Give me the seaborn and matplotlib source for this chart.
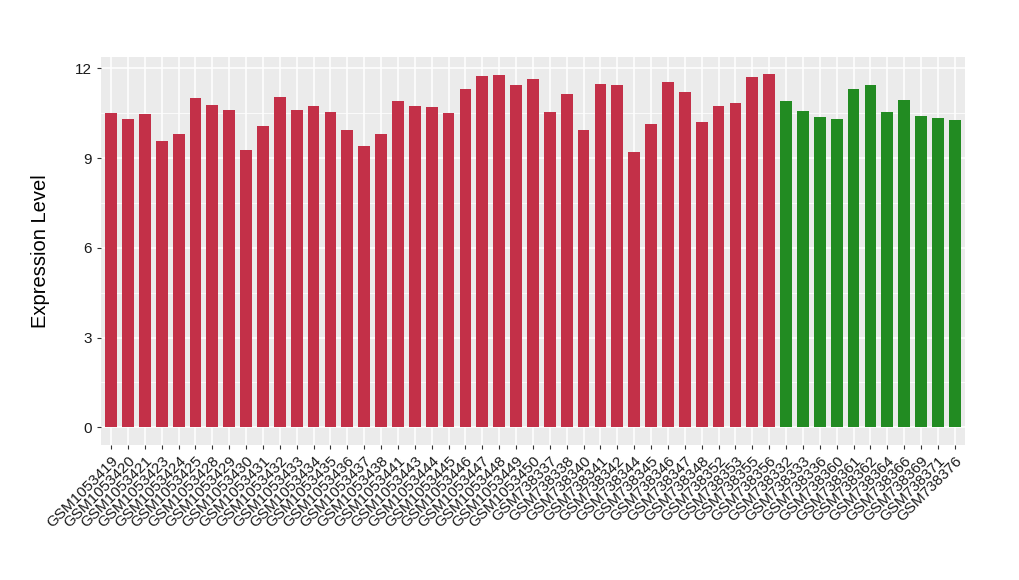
import numpy as np
import pandas as pd
import matplotlib
matplotlib.use("Agg")
import matplotlib.pyplot as plt
import seaborn as sns

samples = [
    "GSM1053419", "GSM1053420", "GSM1053421", "GSM1053423", "GSM1053424",
    "GSM1053425", "GSM1053428", "GSM1053429", "GSM1053430", "GSM1053431",
    "GSM1053432", "GSM1053433", "GSM1053434", "GSM1053435", "GSM1053436",
    "GSM1053437", "GSM1053438", "GSM1053441", "GSM1053443", "GSM1053444",
    "GSM1053445", "GSM1053446", "GSM1053447", "GSM1053448", "GSM1053449",
    "GSM1053450", "GSM738337", "GSM738338", "GSM738340", "GSM738341",
    "GSM738342", "GSM738344", "GSM738345", "GSM738346", "GSM738347",
    "GSM738348", "GSM738352", "GSM738353", "GSM738355", "GSM738356",
    "GSM738332", "GSM738333", "GSM738336", "GSM738360", "GSM738361",
    "GSM738362", "GSM738364", "GSM738366", "GSM738369", "GSM738371",
    "GSM738376",
]
expression = [
    10.52, 10.31, 10.48, 9.58, 9.81, 11.01, 10.78, 10.61, 9.28, 10.08,
    11.04, 10.61, 10.74, 10.54, 9.94, 9.41, 9.81, 10.91, 10.74, 10.71,
    10.51, 11.31, 11.74, 11.78, 11.44, 11.64, 10.54, 11.14, 9.94, 11.48,
    11.44, 9.21, 10.14, 11.54, 11.21, 10.21, 10.74, 10.84, 11.71, 11.81,
    10.91, 10.58, 10.38, 10.31, 11.31, 11.44, 10.54, 10.94, 10.41, 10.34,
    10.28,
]
groups = ["A"] * 40 + ["B"] * 11
palette = {"A": "#C33048", "B": "#228B22"}

df = pd.DataFrame({"sample": samples, "value": expression, "group": groups})

plt.rcParams["font.family"] = ["Liberation Sans", "DejaVu Sans"]

fig = plt.figure(figsize=(10.2, 5.8), dpi=100)
ax = fig.add_axes([0.099, 0.233, 0.847, 0.669])
ax.set_facecolor("#EBEBEB")

sns.barplot(data=df, x="sample", y="value", hue="group", palette=palette,
            dodge=False, width=0.7, legend=False, ax=ax, zorder=3,
            saturation=1)

ax.set_xlim(-0.6, len(samples) - 0.4)
ax.set_ylim(-0.59, 12.39)
ax.set_yticks([0, 3, 6, 9, 12])
ax.set_yticks([1.5, 4.5, 7.5, 10.5], minor=True)
ax.grid(which="major", color="white", linewidth=1.1, zorder=0)
ax.grid(which="minor", axis="y", color="white", linewidth=0.55, zorder=0)
ax.set_axisbelow(True)
for s in ax.spines.values():
    s.set_visible(False)

ax.tick_params(axis="both", which="major", length=3, color="#333333",
               labelsize=11, labelcolor="#1a1a1a", width=0.8)
ax.tick_params(axis="y", which="minor", length=0)
plt.setp(ax.get_xticklabels(), rotation=45, ha="right",
         rotation_mode="anchor")

ax.set_xlabel("")
ax.set_ylabel("Expression Level", fontsize=14.5, labelpad=18)

fig.savefig("out.png", dpi=100)
